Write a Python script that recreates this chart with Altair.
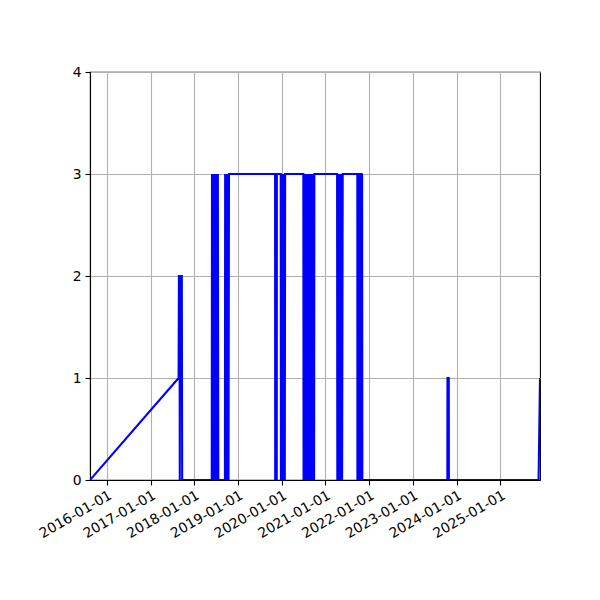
import altair as alt
import pandas as pd

dates = [
    "2015-08-14", "2017-08-23", "2017-08-26", "2017-08-31", "2017-09-02", "2017-09-05",
    "2017-09-09", "2017-09-11", "2017-09-14", "2017-09-19", "2017-09-22",
    "2018-05-27", "2018-05-29", "2018-06-02", "2018-06-05", "2018-06-09", "2018-06-12",
    "2018-06-16", "2018-06-19", "2018-06-23", "2018-06-26", "2018-06-30", "2018-07-03",
    "2018-07-07", "2018-07-10", "2018-07-14", "2018-07-17", "2018-07-21",
    "2018-09-14", "2018-09-16", "2018-09-20", "2018-09-24", "2018-09-28", "2018-10-02",
    "2018-10-06", "2018-10-10", "2018-10-14", "2018-10-18",
    "2019-11-07", "2019-11-08", "2019-11-21", "2019-11-22",
    "2019-12-24", "2019-12-26", "2019-12-30", "2020-01-03", "2020-01-07", "2020-01-11",
    "2020-01-15", "2020-01-19", "2020-01-23", "2020-01-27", "2020-01-30",
    "2020-06-30", "2020-07-02", "2020-07-06", "2020-07-10", "2020-07-14", "2020-07-18",
    "2020-07-22", "2020-07-26", "2020-07-30", "2020-08-03", "2020-08-07", "2020-08-11",
    "2020-08-15", "2020-08-19", "2020-08-23", "2020-08-27", "2020-08-31", "2020-09-04",
    "2020-09-08", "2020-09-12", "2020-09-16", "2020-09-20", "2020-09-24", "2020-09-28",
    "2020-09-30",
    "2021-04-08", "2021-04-10", "2021-04-14", "2021-04-18", "2021-04-22", "2021-04-26",
    "2021-04-30", "2021-05-04", "2021-05-08", "2021-05-12", "2021-05-16", "2021-05-20",
    "2021-05-25",
    "2021-09-24", "2021-09-25", "2021-09-30", "2021-10-02", "2021-10-06", "2021-10-10",
    "2021-10-19", "2021-10-20", "2021-10-21", "2021-10-30", "2021-11-01", "2021-11-03",
    "2021-11-05",
    "2023-10-16", "2023-10-17", "2023-10-28", "2023-10-29",
    "2025-11-16", "2025-11-28",
]
values = [
    0, 1, 2, 2, 0, 2,
    2, 1, 2, 2, 0,
    0, 3, 0, 3, 0, 3,
    0, 3, 0, 3, 0, 3,
    0, 3, 0, 3, 0,
    0, 3, 0, 3, 0, 3,
    0, 3, 0, 3,
    3, 0, 0, 3,
    3, 0, 3, 0, 3, 0,
    3, 0, 3, 0, 3,
    3, 0, 3, 0, 3, 0,
    3, 0, 3, 0, 3, 0,
    3, 0, 3, 0, 3, 0,
    3, 0, 3, 0, 3, 0,
    3,
    3, 0, 3, 0, 3, 0,
    3, 0, 3, 0, 3, 0,
    3,
    3, 0, 0, 3, 0, 3,
    3, 0, 3, 3, 0, 3,
    0,
    0, 1, 1, 0,
    0, 1,
]

x_tick_years = [2016, 2017, 2018, 2019, 2020, 2021, 2022, 2023, 2024, 2025]
y_ticks = [0, 1, 2, 3, 4]

df = pd.DataFrame({"date": dates, "value": values})

FONT = "DejaVu Sans"
GRID = "#b0b0b0"

chart = (
    alt.Chart(df)
    .mark_line(color="#0000ff", strokeWidth=2.08, clip=True)
    .encode(
        x=alt.X(
            "date:T",
            scale=alt.Scale(type="utc", nice=False),
            axis=alt.Axis(
                title=None,
                values=[alt.DateTime(year=y, month=1, date=1, utc=True) for y in x_tick_years],
                format="%Y-%m-%d",
                labelAngle=330,
                labelAlign="right",
                labelBaseline="top",
                labelPadding=3,
                grid=True,
            ),
        ),
        y=alt.Y(
            "value:Q",
            scale=alt.Scale(domain=[0, 4], nice=False, zero=False),
            axis=alt.Axis(
                title=None,
                values=y_ticks,
                format="d",
                labelPadding=4,
                grid=True,
            ),
        ),
    )
    .properties(
        width=450,
        height=408,
        autosize=alt.AutoSizeParams(type="none"),
        padding={"left": 82, "top": 64, "right": 52, "bottom": 112},
    )
    .configure_view(stroke="black", strokeWidth=1.1)
    .configure_axis(
        domainColor="black",
        domainWidth=1.1,
        tickColor="black",
        tickWidth=1.1,
        tickSize=5,
        labelColor="black",
        labelFont=FONT,
        labelFontSize=13.9,
        gridColor=GRID,
        gridWidth=1.1,
        gridOpacity=1,
        labelOverlap=False,
        labelFlush=False,
    )
)

chart.save("out.html", embed_options={"renderer": "svg", "actions": False})
